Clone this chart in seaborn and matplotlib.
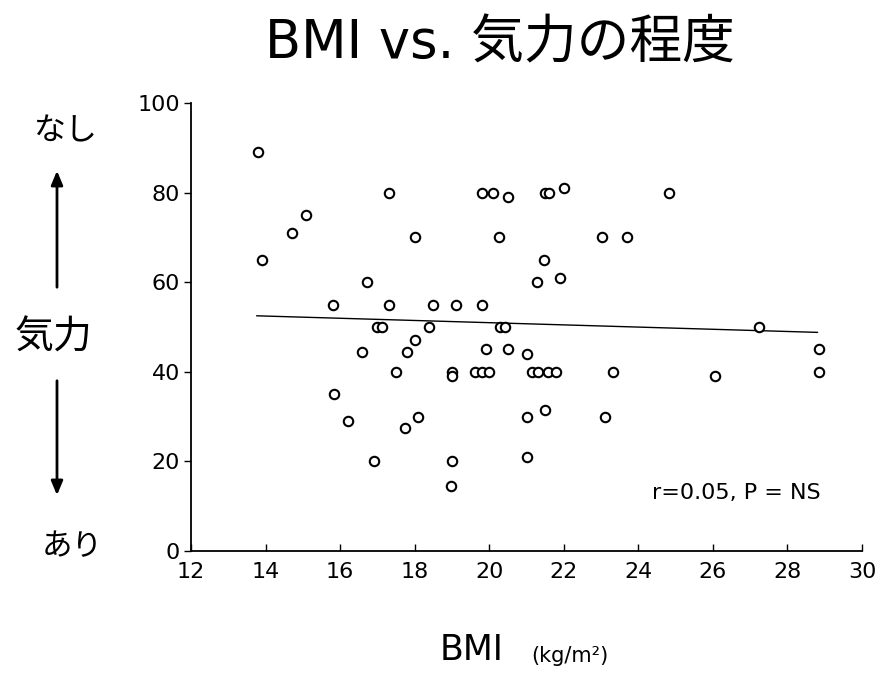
import matplotlib
matplotlib.use("Agg")
import matplotlib.pyplot as plt
import seaborn as sns
import pandas as pd

# ---- data ----
bmi = [13.79, 17.30, 15.09, 14.70, 18.01, 13.91, 16.71, 15.82, 17.30, 17.00,
       17.12, 18.01, 16.60, 17.79, 17.50, 15.84, 16.20, 18.08, 17.73, 16.92,
       19.80, 20.09, 20.51, 21.50, 21.61, 22.01, 20.27, 23.02, 23.70, 21.48,
       21.29, 21.90, 18.50, 19.10, 19.80, 18.39, 20.29, 20.42, 19.91, 20.51,
       21.00, 18.99, 18.99, 19.62, 19.80, 19.99, 21.14, 21.32, 21.58, 21.79,
       23.33, 21.00, 21.50, 23.11, 18.99, 21.00, 18.97, 24.82, 27.24, 28.85,
       28.85, 26.06]
kiryoku = [89, 80, 75, 71, 70, 65, 60, 55, 55, 50,
           50, 47, 44.5, 44.5, 40, 35, 29, 30, 27.5, 20,
           80, 80, 79, 80, 80, 81, 70, 70, 70, 65,
           60, 61, 55, 55, 55, 50, 50, 50, 45, 45,
           44, 40, 39, 40, 40, 40, 40, 40, 40, 40,
           40, 30, 31.5, 30, 20, 21, 14.5, 80, 50, 45,
           40, 39]
fit_x = [13.76, 28.81]
fit_y = [52.5, 48.8]
x_ticks = [12, 14, 16, 18, 20, 22, 24, 26, 28, 30]
y_ticks = [0, 20, 40, 60, 80, 100]

df = pd.DataFrame({"BMI": bmi, "kiryoku": kiryoku})
fit = pd.DataFrame({"x": fit_x, "y": fit_y})

sns.set_theme(style="white")
plt.rcParams['font.family'] = ['DejaVu Sans', 'Noto Sans CJK JP']
plt.rcParams['text.color'] = 'black'
plt.rcParams['xtick.color'] = 'black'
plt.rcParams['ytick.color'] = 'black'

W, H = 882, 675
fig = plt.figure(figsize=(W / 100, H / 100), dpi=100)
ax = fig.add_axes([191 / W, 1 - 551 / H, (862 - 191) / W, (551 - 103) / H])

sns.lineplot(data=fit, x="x", y="y", ax=ax, color="black", linewidth=1.0)
sns.scatterplot(data=df, x="BMI", y="kiryoku", ax=ax, s=46, marker="o",
                facecolor="white", edgecolor="black", linewidth=1.5, zorder=3)

ax.set_xlim(12, 30)
ax.set_ylim(0, 100)
ax.set_xticks(x_ticks)
ax.set_yticks(y_ticks)
ax.set_xlabel("")
ax.set_ylabel("")
for s in ["top", "right"]:
    ax.spines[s].set_visible(False)
for s in ["left", "bottom"]:
    ax.spines[s].set_color("black")
    ax.spines[s].set_linewidth(1.3)
ax.tick_params(axis="y", left=True, direction="out", length=5, width=1,
               color="black", labelcolor="black", labelsize=16, pad=3)
ax.tick_params(axis="x", bottom=True, direction="in", length=5, width=1,
               color="black", labelcolor="black", labelsize=16, pad=8)

def px(x, y):
    return x / W, 1 - y / H

fig.text(*px(500, 43), "BMI vs. 気力の程度", fontsize=38, ha="center", va="center")
fig.text(*px(65, 132), "なし", fontsize=23, ha="center", va="center")
fig.text(*px(53, 338), "気力", fontsize=28, ha="center", va="center")
fig.text(*px(72, 547), "あり", fontsize=22, ha="center", va="center")
fig.text(*px(472, 650), "BMI", fontsize=25, ha="center", va="center")
fig.text(*px(570, 656), "(kg/m²)", fontsize=15, ha="center", va="center")
fig.text(*px(736, 493), "r=0.05, P = NS", fontsize=16, ha="center", va="center")

arrow_kw = dict(arrowstyle="-|>,head_length=0.6,head_width=0.25", color="black",
                lw=2, mutation_scale=14)
fig.patches.append(matplotlib.patches.FancyArrowPatch(
    px(57, 290), px(57, 168), transform=fig.transFigure, **arrow_kw))
fig.patches.append(matplotlib.patches.FancyArrowPatch(
    px(57, 378), px(57, 498), transform=fig.transFigure, **arrow_kw))

fig.savefig("out.png", dpi=100)
